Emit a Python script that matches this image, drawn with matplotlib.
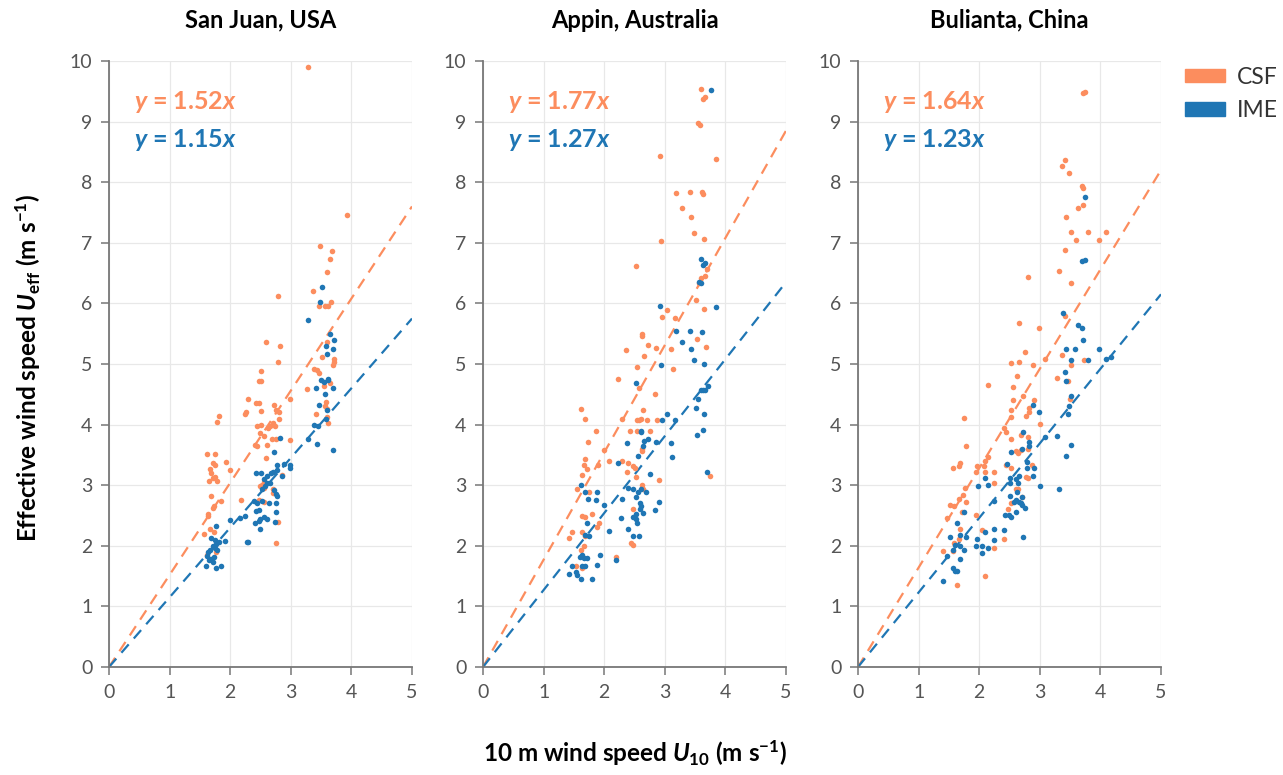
import matplotlib
matplotlib.use("Agg")
import matplotlib.pyplot as plt
from matplotlib.patches import Patch

plt.rcParams['font.family'] = ['Lato', 'DejaVu Sans']
plt.rcParams['mathtext.fontset'] = 'custom'
plt.rcParams['mathtext.it'] = 'Lato:italic:bold'
plt.rcParams['mathtext.rm'] = 'Lato:bold'
plt.rcParams['mathtext.bf'] = 'Lato:bold'

ORANGE = '#fc8d5e'
BLUE = '#1f76b4'

titles = ["San Juan, USA", "Appin, Australia", "Bulianta, China"]
csf_slopes = [1.52, 1.77, 1.64]
ime_slopes = [1.15, 1.27, 1.23]

# San Juan
sj_csf_x = [3.29, 3.92, 3.48, 3.68, 3.65, 3.60, 3.37, 3.67, 3.47, 3.57, 3.61, 2.79, 2.59, 2.82, 2.79,
            3.60, 3.51, 3.72, 3.72, 3.70,
            2.50, 2.48, 2.51, 2.30, 2.42, 2.47, 2.26, 2.24, 2.50, 2.73, 2.75, 2.81, 2.81, 2.71,
            1.82, 1.78, 2.98, 2.45, 2.50, 2.49, 2.56, 2.63, 2.66, 2.74, 2.41, 2.44, 2.60, 2.69,
            2.76, 2.99, 2.59, 1.61, 1.75, 1.71, 1.75, 1.66, 1.68, 1.65, 1.71, 1.79, 1.75, 1.93,
            2.00, 1.68, 1.85, 1.74, 1.71, 1.63, 1.64, 1.67, 1.74, 1.57, 2.17, 2.79, 2.76, 1.61,
            1.77, 2.85, 2.49, 2.52, 2.55, 2.56, 2.48, 2.56, 2.70, 2.71,
            3.38, 3.46, 3.44, 3.55, 3.65, 3.27, 3.58, 3.57, 3.41, 3.60, 3.62, 3.59]
sj_csf_y = [9.90, 7.46, 6.94, 6.86, 6.74, 6.52, 6.20, 6.03, 5.95, 5.95, 5.96, 6.12, 5.36, 5.30, 5.04,
            5.36, 5.12, 5.09, 5.04, 4.98,
            4.88, 4.72, 4.72, 4.42, 4.36, 4.35, 4.20, 4.17, 4.22, 4.32, 4.24, 4.21, 4.09, 4.03,
            4.15, 4.05, 4.43, 3.97, 3.99, 3.86, 3.81, 3.95, 3.98, 3.97, 3.67, 3.64, 3.67, 3.76,
            3.76, 3.74, 3.45, 3.51, 3.52, 3.36, 3.34, 3.27, 3.20, 3.07, 3.12, 3.07, 3.13, 3.38,
            3.25, 2.83, 2.74, 2.65, 2.63, 2.53, 2.50, 2.28, 2.22, 2.20, 2.76, 2.39, 2.05, 1.84,
            1.89, 3.17, 2.98, 3.00, 3.06, 2.96, 2.76, 2.73, 2.87, 2.93,
            4.92, 4.85, 4.90, 4.64, 4.69, 4.59, 4.37, 4.31, 4.17, 4.13, 4.02, 4.25]
sj_ime_x = [3.51, 3.48, 3.29, 3.65, 3.72, 3.58, 3.70, 3.60,
            3.50, 3.55, 3.61, 3.62, 3.69, 3.42, 3.57, 3.47, 3.59, 3.58, 3.38, 3.28, 3.43, 3.69,
            3.45, 2.82, 2.72, 2.42, 2.50, 2.55, 2.60, 2.67, 2.71, 2.77, 2.78, 2.88, 2.98, 2.99,
            2.85, 2.61, 2.65, 2.58, 2.52, 2.72, 2.76, 2.78, 2.75, 2.64, 2.52, 2.44, 2.48, 2.42,
            2.49, 2.55, 2.60, 2.76, 2.41, 2.48, 2.49, 2.74, 2.40, 1.77, 1.68, 1.75, 1.72, 1.67,
            1.64, 1.61, 1.68, 1.73, 1.75, 1.78, 1.77, 1.82, 1.92, 1.60, 1.77, 1.84, 1.72, 1.65,
            2.00, 2.16, 2.24, 2.27, 2.29]
sj_ime_y = [6.27, 6.02, 5.72, 5.50, 5.39, 5.29, 5.25, 5.16,
            4.74, 4.71, 4.74, 4.76, 4.61, 4.61, 4.50, 4.32, 4.24, 4.10, 3.99, 3.76, 3.68, 3.58,
            3.97, 3.78, 3.54, 3.20, 3.20, 3.11, 3.15, 3.20, 3.21, 3.25, 3.33, 3.35, 3.34, 3.29,
            3.15, 3.04, 3.04, 2.98, 2.93, 2.92, 2.85, 2.82, 2.70, 2.70, 2.74, 2.70, 2.59, 2.57,
            2.45, 2.48, 2.45, 2.55, 2.38, 2.41, 2.28, 2.39, 2.74, 2.33, 2.13, 2.10, 1.99, 1.93,
            1.90, 1.83, 1.79, 1.82, 1.96, 1.93, 2.03, 2.07, 2.08, 1.67, 1.63, 1.66, 1.73, 1.77,
            2.43, 2.46, 2.50, 2.07, 2.06]

# Appin
ap_csf_x = [3.59, 3.63, 3.66, 3.54, 3.58, 2.92, 3.84, 3.18, 3.41, 3.61, 3.63, 3.28, 3.44, 3.48,
            3.64, 2.94, 2.53, 3.70, 3.66, 3.60, 3.56, 3.51, 3.65, 3.04, 2.96, 3.17, 2.62, 2.63,
            2.72, 2.85, 2.65, 2.36, 3.11, 3.68, 3.53, 2.54, 3.13,
            2.23, 2.58, 2.84, 1.62, 1.68, 2.64, 2.30, 2.54, 2.57, 2.60, 2.70, 2.87, 1.87, 2.42,
            2.54, 2.76, 1.73, 1.99, 2.62, 2.63, 1.68, 2.08, 2.30, 1.66, 1.72, 1.89, 2.40, 2.47,
            2.50, 1.64, 2.38, 2.53, 2.91, 3.75, 1.55, 1.75, 2.62, 2.64, 2.48, 1.63, 1.68, 1.80,
            1.92, 1.88, 1.47, 1.42, 1.63, 1.68, 2.45, 2.47, 1.66, 1.62, 2.19, 1.53, 1.63]
ap_csf_y = [9.53, 9.37, 9.40, 8.97, 8.95, 8.43, 8.39, 7.83, 7.84, 7.84, 7.80, 7.57, 7.43, 7.16,
            7.07, 7.03, 6.62, 6.56, 6.45, 6.42, 6.33, 6.05, 5.90, 5.89, 5.77, 5.76, 5.50, 5.47,
            5.31, 5.27, 5.14, 5.23, 5.24, 5.28, 5.41, 4.95, 4.91,
            4.76, 4.60, 4.50, 4.25, 4.09, 4.24, 4.10, 4.08, 4.07, 4.09, 4.08, 4.08, 3.89, 3.90,
            3.90, 3.89, 3.72, 3.58, 3.60, 3.57, 3.44, 3.40, 3.40, 3.34, 3.26, 3.33, 3.36, 3.31,
            3.28, 3.17, 3.22, 3.14, 3.09, 3.15, 2.94, 2.88, 3.00, 2.93, 2.60, 2.49, 2.47, 2.52,
            2.37, 2.31, 2.23, 2.13, 2.23, 2.16, 2.05, 2.01, 1.99, 1.93, 1.82, 1.67, 1.63]
ap_ime_x = [3.76, 3.59, 3.63, 3.67, 3.56, 3.59, 2.92, 3.84, 3.18, 3.41, 3.61, 3.28, 3.44, 3.48,
            3.64, 2.94,
            2.53, 3.71, 3.63, 3.59, 3.66, 3.55, 3.52, 3.65, 3.04, 2.96, 3.17, 3.53, 3.63, 2.60,
            2.61, 2.37, 2.65, 2.72, 2.85, 3.10, 2.64, 3.12, 2.55, 2.22, 2.76, 3.69, 1.62, 2.40,
            2.47, 2.52, 2.55, 2.61, 2.69, 1.69, 1.88, 1.74, 1.87, 1.99, 2.30, 2.59, 2.61, 2.64,
            2.59, 2.91, 2.84, 2.27, 2.47, 2.53, 2.54, 2.52, 1.71, 2.08, 2.39, 1.68, 1.75, 2.47,
            2.58, 1.93, 1.60, 1.67, 1.72, 1.64, 2.19, 1.47, 1.64, 1.68, 1.88, 1.42, 1.53, 1.55,
            1.62, 1.80]
ap_ime_y = [9.52, 6.74, 6.63, 6.66, 6.35, 6.33, 5.96, 5.94, 5.54, 5.54, 5.53, 5.36, 5.25, 5.07,
            5.00, 4.98,
            4.68, 4.64, 4.57, 4.57, 4.57, 4.42, 4.28, 4.17, 4.17, 4.08, 4.08, 3.83, 3.91, 3.89,
            3.87, 3.70, 3.73, 3.76, 3.72, 3.70, 3.64, 3.46, 3.49, 3.36, 3.18, 3.22, 3.00, 2.96,
            2.93, 2.81, 2.89, 2.93, 2.88, 2.89, 2.88, 2.77, 2.76, 2.67, 2.77, 2.70, 2.66, 2.54,
            2.60, 2.73, 2.59, 2.46, 2.48, 2.45, 2.37, 2.52, 2.38, 2.25, 2.27, 2.17, 2.16, 2.16,
            2.16, 1.84, 1.82, 1.80, 1.80, 1.84, 1.77, 1.67, 1.66, 1.67, 1.68, 1.54, 1.56, 1.52,
            1.46, 1.46]

# Bulianta
bu_csf_x = [3.71, 3.75, 3.42, 3.37, 3.49, 3.70, 3.71, 3.63, 3.71, 3.44, 3.52, 3.80, 4.09, 3.59,
            3.97, 3.42, 3.31, 2.81, 3.51, 3.42, 2.66, 2.99, 2.76, 3.37, 2.53, 2.65, 2.88, 3.08,
            3.52, 3.73,
            2.63, 2.15, 2.56, 2.72, 2.55, 2.91, 3.28, 3.46, 3.50, 2.52, 2.52, 2.83, 2.77, 2.83,
            1.75, 3.01, 2.41, 2.45, 2.52, 2.69, 2.80, 1.79, 2.60, 2.64, 2.69, 2.81, 2.14, 2.09,
            2.08, 1.96, 1.95, 2.10, 1.69, 1.66, 1.56, 2.44, 2.53, 2.25, 2.87, 2.80, 2.78, 2.25,
            1.77, 1.74, 1.66, 1.78, 1.51, 1.58, 1.71, 1.47, 1.94, 2.60, 2.64, 2.71, 2.52, 2.48,
            1.69, 2.05, 1.66, 1.59, 1.57, 1.41, 2.24, 2.41, 2.09, 1.64]
bu_csf_y = [9.48, 9.49, 8.36, 8.26, 8.16, 7.94, 7.91, 7.58, 7.62, 7.43, 7.17, 7.17, 7.18, 7.04,
            7.04, 6.88, 6.53, 6.44, 6.34, 5.79, 5.67, 5.60, 5.19, 5.15, 5.01, 5.04, 4.99, 5.08,
            4.99, 5.07,
            4.81, 4.65, 4.62, 4.47, 4.41, 4.41, 4.77, 4.72, 4.42, 4.24, 4.13, 4.28, 4.14, 4.20,
            4.11, 4.01, 3.95, 3.88, 3.76, 3.83, 3.79, 3.64, 3.57, 3.53, 3.58, 3.60, 3.47, 3.40,
            3.32, 3.31, 3.21, 3.21, 3.36, 3.31, 3.28, 3.34, 3.29, 3.21, 3.33, 3.12, 3.14, 3.04,
            2.96, 2.84, 2.77, 2.72, 2.68, 2.65, 2.56, 2.46, 2.51, 2.93, 2.94, 2.80, 2.70, 2.60,
            2.28, 2.26, 2.11, 2.05, 1.92, 1.92, 1.97, 2.12, 1.50, 1.36]
bu_ime_x = [3.75, 3.70, 3.75, 3.38, 3.63, 3.70, 3.71, 3.44, 3.58, 3.97, 3.52, 3.80, 4.10, 4.17,
            3.42, 3.43, 3.52, 3.49, 3.47, 3.51, 3.44, 3.28, 3.31, 2.88, 2.99, 3.08, 2.72, 2.83,
            2.83, 2.70, 2.79, 2.79, 2.52, 2.46, 2.51, 2.50, 2.65, 2.61, 2.64, 2.91, 2.88, 3.01,
            2.09, 2.15, 1.98, 2.51, 2.62, 2.61, 2.57, 2.65, 2.70, 2.69, 2.71, 2.76, 2.43, 2.49,
            2.53, 2.60, 1.75, 2.25, 1.64, 1.51, 1.69, 1.78, 1.60, 1.68, 1.75, 1.57, 1.96, 2.10,
            2.25, 2.41, 2.24, 1.94, 2.05, 2.14, 2.05, 1.47, 1.68, 1.56, 1.60, 1.64, 1.41, 2.72]
bu_ime_y = [7.76, 6.70, 6.71, 5.84, 5.64, 5.60, 5.40, 5.25, 5.25, 5.24, 5.07, 5.07, 5.08, 5.12,
            4.86, 4.72, 4.48, 4.30, 4.17, 3.67, 3.48, 3.82, 2.93, 4.33, 4.20, 3.79, 3.87, 3.72,
            3.64, 3.59, 3.39, 3.29, 3.54, 3.35, 3.12, 3.03, 3.16, 3.11, 3.03, 3.28, 3.15, 2.99,
            3.12, 3.00, 2.99, 2.83, 2.88, 2.76, 2.73, 2.73, 2.81, 2.71, 2.67, 2.63, 2.51, 2.51,
            2.47, 2.55, 2.56, 2.74, 2.37, 2.14, 2.17, 2.15, 2.01, 1.99, 1.93, 1.93, 2.12, 2.22,
            2.27, 2.26, 2.10, 1.99, 1.99, 1.97, 1.88, 1.83, 1.78, 1.63, 1.59, 1.58, 1.42, 2.15]

panels = [
    (sj_csf_x, sj_csf_y, sj_ime_x, sj_ime_y),
    (ap_csf_x, ap_csf_y, ap_ime_x, ap_ime_y),
    (bu_csf_x, bu_csf_y, bu_ime_x, bu_ime_y),
]

fig = plt.figure(figsize=(12.83, 7.75), dpi=100)
lefts = [109 / 1283, 483 / 1283, 858 / 1283]

for i, (cx, cy, ix, iy) in enumerate(panels):
    ax = fig.add_axes([lefts[i], 108 / 775, 303 / 1283, 606 / 775])
    ax.set_xlim(0, 5)
    ax.set_ylim(0, 10)
    ax.set_xticks(range(0, 6))
    ax.set_yticks(range(0, 11))
    ax.grid(True, color='#e8e8e8', lw=0.9, zorder=0)
    ax.set_axisbelow(True)
    for s in ['top', 'right']:
        ax.spines[s].set_visible(False)
    for s in ['left', 'bottom']:
        ax.spines[s].set_color('#777777')
        ax.spines[s].set_linewidth(1.3)
    ax.tick_params(direction='out', length=6, width=1.1, color='#777777',
                   labelcolor='#555555', labelsize=14, pad=6)

    ax.plot([0, 5], [0, 5 * csf_slopes[i]], ls=(0, (5, 3.5)), color=ORANGE, lw=1.6, zorder=2)
    ax.plot([0, 5], [0, 5 * ime_slopes[i]], ls=(0, (5, 3.5)), color=BLUE, lw=1.6, zorder=2)
    ax.scatter(cx, cy, s=16, color=ORANGE, linewidths=0, zorder=3, clip_on=False)
    ax.scatter(ix, iy, s=16, color=BLUE, linewidths=0, zorder=4, clip_on=False)

    ax.text(0.42, 9.32, r"$y$ = %.2f$x$" % csf_slopes[i], color=ORANGE, fontsize=18,
            fontweight='bold', va='center', ha='left')
    ax.text(0.42, 8.70, r"$y$ = %.2f$x$" % ime_slopes[i], color=BLUE, fontsize=18,
            fontweight='bold', va='center', ha='left')
    ax.set_title(titles[i], fontsize=17, fontweight='bold', pad=24)

fig.text(0.022, 0.525, r"Effective wind speed $U_{\mathrm{eff}}$ (m s$^{-1}$)", rotation=90,
         fontsize=17.5, fontweight='bold', ha='center', va='center')
fig.text(0.495, 0.028, r"10 m wind speed $U_{10}$ (m s$^{-1}$)",
         fontsize=17.5, fontweight='bold', ha='center', va='center')

handles = [Patch(color=ORANGE, label='CSF'), Patch(color=BLUE, label='IME')]
fig.legend(handles=handles, loc='upper left', bbox_to_anchor=(0.9236, 0.914), frameon=False,
           fontsize=16.5, handlelength=1.75, handleheight=0.55, handletextpad=0.5,
           labelspacing=0.55, borderpad=0, borderaxespad=0, labelcolor='#333333')

fig.savefig("out.png", dpi=100)
